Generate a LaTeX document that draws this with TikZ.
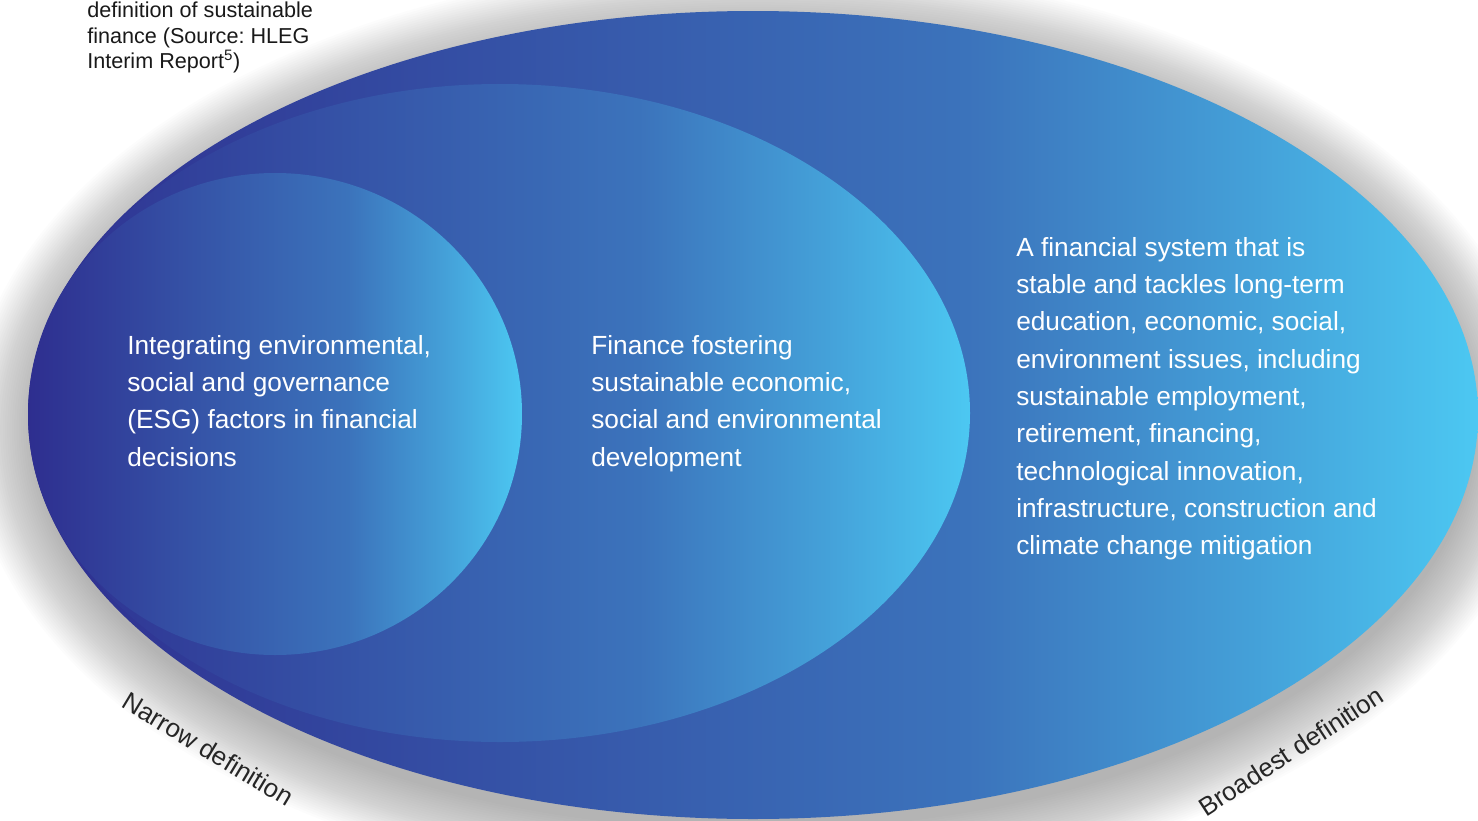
\documentclass[tikz,border=0pt]{standalone}
\usepackage{fontspec}
\setmainfont{Liberation Sans}
\definecolor{dk}{HTML}{2E2E8F}
\definecolor{lt}{HTML}{4CC8F2}
\colorlet{ca}{lt!25!dk}
\colorlet{cb}{lt!45!dk}
\colorlet{cc}{lt!75!dk}
\pgfdeclarehorizontalshading{bluegrad}{100bp}{color(0bp)=(dk); color(25bp)=(dk); color(42.5bp)=(ca); color(57.5bp)=(cb); color(67.5bp)=(cc); color(75bp)=(lt); color(100bp)=(lt)}
\frenchspacing
\begin{document}
\begin{tikzpicture}[x=0.75pt,y=-0.75pt,
  body/.style={text=white, align=left, inner sep=0pt, anchor=north west, font=\fontsize{19.7}{28}\selectfont},
  lab/.style={text=black!85, inner sep=0pt, font=\fontsize{19.4}{22}\selectfont},
  grad/.style={shading=bluegrad},
  shad/.style={fill=black, opacity=#1}]
\useasboundingbox (0,0) rectangle (1478,821);
% outer soft shadow
\foreach \i in {1,...,30}{
  \fill[shad=0.013] (755,430) ellipse [x radius={718+2.3*\i}, y radius={398+2.3*\i}];
}
% ellipses
\path[grad] (753,415) ellipse [x radius=725, y radius=404];
\path[grad] (500,413) ellipse [x radius=470, y radius=329];
\path[grad] (275,414) ellipse [x radius=247, y radius=241];
\node[body] (inner) at (127,335) {Integrating environmental,\\social and governance\\(ESG) factors in financial\\decisions};
\node[body] (mid) at (591,335) {Finance fostering\\sustainable economic,\\social and environmental\\development};
\node[body] (outer) at (1016,237) {A financial system that is\\stable and tackles long-term\\education, economic, social,\\environment issues, including\\sustainable employment,\\retirement, financing,\\technological innovation,\\infrastructure, construction and\\climate change mitigation};
\node[lab, rotate=-31] (narrow) at (208,749) {Narrow definition};
\node[lab, rotate=33] (broad) at (1291,751) {Broadest definition};
\node[anchor=north west, align=left, inner sep=0pt, font=\fontsize{16.2}{19.3}\selectfont, text=black!90] (src) at (87,1.5) {definition of sustainable\\finance (Source: HLEG\\Interim Report\textsuperscript{5})};
\end{tikzpicture}
\end{document}
